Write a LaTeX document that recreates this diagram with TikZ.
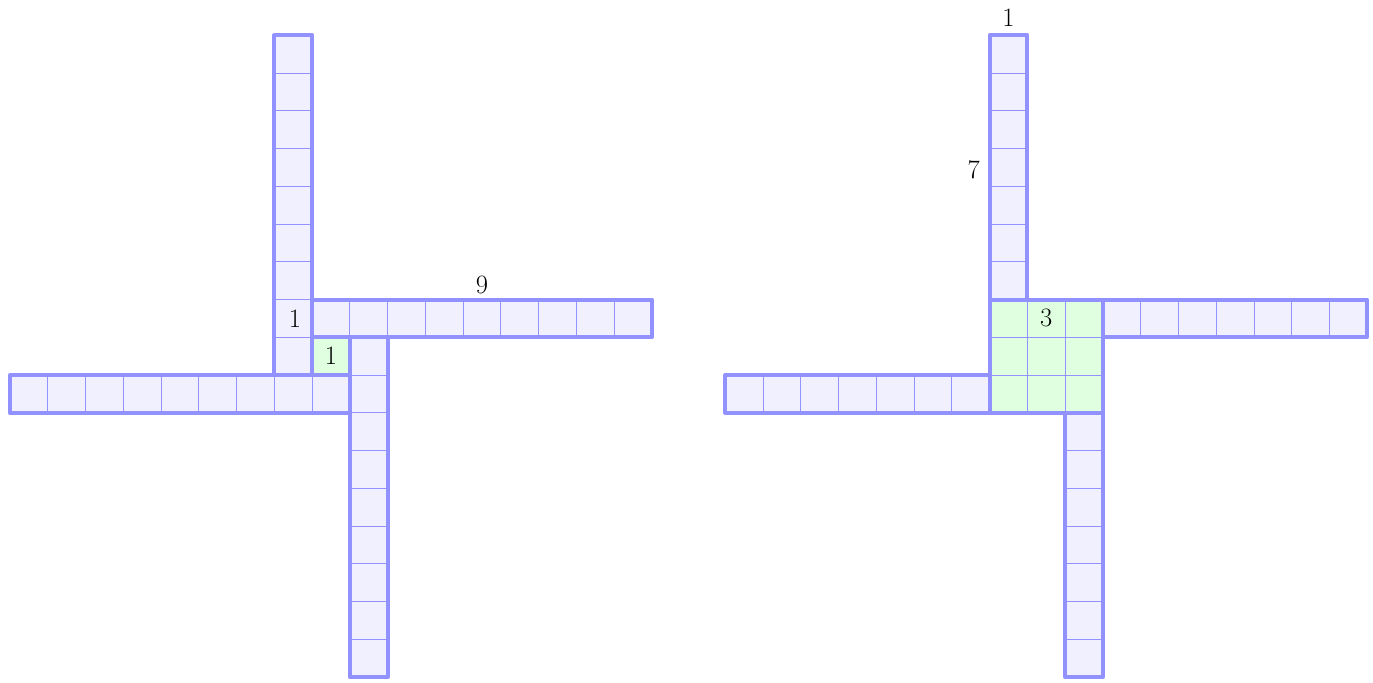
\documentclass[tikz,border=0pt]{standalone}
\definecolor{edgeblue}{RGB}{145,145,255}
\definecolor{cellfill}{RGB}{240,240,255}
\definecolor{greenfill}{RGB}{224,255,224}
\tikzset{
  gridline/.style={draw=edgeblue, line width=0.6pt},
  outline/.style={draw=edgeblue, line width=3pt, line join=round},
  lbl/.style={font=\fontsize{20}{24}\selectfont, inner sep=0pt}
}
\newcommand\gridbox[5]{%
  \fill[#5] (#1,#2) rectangle (#3,#4);
  \draw[gridline] (#1,#2) grid (#3,#4);
}
\newcommand\boxline[4]{\draw[outline] (#1,#2) rectangle (#3,#4);}
\begin{document}
\begin{tikzpicture}
\useasboundingbox (-8.265,-8.132) rectangle (28.105,9.934);
% left figure
\gridbox{0}{0}{1}{1}{greenfill}
\gridbox{-1}{0}{0}{9}{cellfill}
\gridbox{0}{1}{9}{2}{cellfill}
\gridbox{-8}{-1}{1}{0}{cellfill}
\gridbox{1}{-8}{2}{1}{cellfill}
\boxline{0}{0}{1}{1}
\boxline{-1}{0}{0}{9}
\boxline{0}{1}{9}{2}
\boxline{-8}{-1}{1}{0}
\boxline{1}{-8}{2}{1}
\node[lbl] (l1) at (-0.45,1.5) {1};
\node[lbl] (lg) at (0.5,0.5) {1};
\node[lbl] (l9) at (4.5,2.38) {9};
% right figure
\begin{scope}[xshift=17.95cm,yshift=-1cm]
\gridbox{0}{0}{3}{3}{greenfill}
\gridbox{0}{3}{1}{10}{cellfill}
\gridbox{3}{2}{10}{3}{cellfill}
\gridbox{-7}{0}{0}{1}{cellfill}
\gridbox{2}{-7}{3}{0}{cellfill}
\boxline{0}{0}{3}{3}
\boxline{0}{3}{1}{10}
\boxline{3}{2}{10}{3}
\boxline{-7}{0}{0}{1}
\boxline{2}{-7}{3}{0}
\node[lbl] (r1) at (0.5,10.46) {1};
\node[lbl] (r7) at (-0.42,6.45) {7};
\node[lbl] (r3) at (1.5,2.5) {3};
\end{scope}
\end{tikzpicture}
\end{document}
